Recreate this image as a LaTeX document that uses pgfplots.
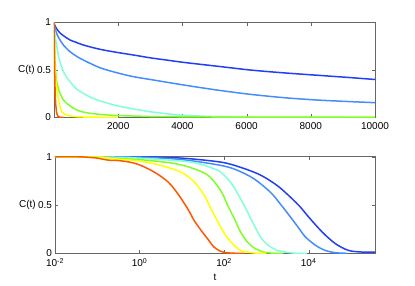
\documentclass[border=0pt]{standalone}
\usepackage{fontspec}
\setmainfont{Liberation Sans}
\usepackage{pgfplots}
\pgfplotsset{compat=1.18}
\definecolor{c1}{rgb}{0.13,0.25,0.95}
\definecolor{c2}{rgb}{0.27,0.55,1.0}
\definecolor{c3}{rgb}{0.5,1.0,0.85}
\definecolor{c4}{rgb}{0.5,1.0,0.15}
\definecolor{c5}{rgb}{1.0,1.0,0.0}
\definecolor{c6}{rgb}{1.0,0.35,0.0}
\pgfplotsset{
  mystyle/.style={
    scale only axis,
    anchor=south west,
    ymin=0, ymax=1,
    ytick={0,0.5,1}, yticklabels={0,0.5,1},
    axis line style={black!60},
    tick style={black!60},
    tick align=inside,
    xtick pos=both, ytick pos=both,
    major tick length=3.5pt,
    minor tick length=0pt,
    ticklabel style={black},
    yticklabel style={xshift=0.5pt},
    xticklabel style={yshift=-1.5pt},
    /pgf/number format/assume math mode=true,
    every axis y label/.style={at={(axis description cs:0,0.5)}, anchor=east, xshift=-19pt, inner sep=0pt},
    every axis x label/.style={at={(axis description cs:0.5,0)}, anchor=north, yshift=-20.5pt, inner sep=0pt},
    ylabel={C(t)},
    every axis plot/.append style={line width=1.5pt, no markers, line join=round},
  }
}
\begin{document}
\begin{tikzpicture}
\path[use as bounding box] (0,0) rectangle (415pt,286pt);
% ---------------- top panel (linear t) ----------------
\begin{axis}[mystyle, at={(54pt,168.5pt)}, width=321pt, height=95pt,
  xmin=0, xmax=10000, scaled x ticks=false,
  xtick={2000,4000,6000,8000,10000}, xticklabels={2000,4000,6000,8000,10000}]
\addplot[c1, smooth] coordinates {(0,1) (10,0.985) (31,0.965) (100,0.925) (187,0.89) (300,0.86) (498,0.816) (700,0.79) (913,0.763) (1430,0.718) (1950,0.686) (2470,0.658) (3000,0.628) (3500,0.605) (4040,0.58) (5080,0.54) (6110,0.50) (7150,0.47) (8190,0.445) (9230,0.42) (10000,0.40)};
\addplot[c2, smooth] coordinates {(0,1) (10,0.97) (31,0.94) (100,0.87) (187,0.816) (300,0.76) (498,0.693) (700,0.645) (913,0.605) (1430,0.524) (1950,0.472) (2470,0.43) (3000,0.40) (4040,0.342) (5080,0.289) (6110,0.244) (7150,0.209) (8190,0.184) (9230,0.167) (10000,0.156)};
\addplot[c3] coordinates {(0,1) (10,0.93) (31,0.868) (80,0.76) (134,0.658) (200,0.57) (290,0.482) (400,0.42) (498,0.377) (600,0.335) (700,0.30) (913,0.254) (1150,0.21) (1430,0.174) (1950,0.124) (2470,0.09) (3000,0.06) (3500,0.04) (4040,0.022) (5080,0.008) (6000,0.003) (7000,0.001) (9000,0)};
\addplot[c4] coordinates {(0,1) (10,0.85) (20,0.74) (31,0.64) (47,0.5) (65,0.43) (83,0.38) (130,0.31) (187,0.254) (280,0.19) (394,0.149) (550,0.11) (705,0.079) (900,0.058) (1120,0.044) (1500,0.03) (1950,0.021) (3000,0.01) (5000,0.005) (10000,0.003)};
\addplot[c5] coordinates {(0,1) (10,0.8) (25,0.6) (50,0.42) (80,0.31) (134,0.20) (180,0.12) (238,0.061) (350,0.03) (498,0.016) (700,0.008) (1000,0.004) (2000,0)};
\addplot[c6] coordinates {(0,1) (5,0.9) (15,0.6) (30,0.33) (50,0.15) (80,0.05) (120,0.015) (200,0) (300,0)};
\end{axis}
% ---------------- bottom panel (log t) ----------------
\begin{axis}[mystyle, at={(55pt,32.7pt)}, width=320pt, height=96.6pt,
  xmode=log, xmin=0.01, xmax=3.7e5,
  xtick={0.01,1,100,10000}, minor xtick={},
  xticklabels={10\textsuperscript{-2},10\textsuperscript{0},10\textsuperscript{2},10\textsuperscript{4}},
  xlabel={t}]
\addplot[c1, smooth] coordinates {(0.01,1) (0.1,0.999) (1,0.998) (10,0.985) (83.2,0.944) (245,0.89) (724,0.81) (1820,0.70) (3715,0.58) (6310,0.48) (10000,0.375) (20893,0.22) (42658,0.10) (87096,0.03) (181970,0.013) (371535,0.013)};
\addplot[c2, smooth] coordinates {(0.01,1) (0.1,0.998) (1,0.995) (10,0.97) (83.2,0.91) (204,0.86) (513,0.77) (1259,0.63) (2138,0.51) (3715,0.375) (6310,0.24) (8318,0.17) (14454,0.083) (24547,0.03) (42658,0.006) (79433,0)};
\addplot[c3, smooth] coordinates {(0.01,1) (0.1,0.998) (1,0.985) (16.6,0.944) (57.5,0.875) (83.2,0.84) (145,0.73) (245,0.565) (355,0.43) (513,0.29) (724,0.17) (1047,0.09) (1820,0.03) (3090,0.01) (5012,0) (9000,0)};
\addplot[c4, smooth] coordinates {(0.01,1) (0.1,0.995) (0.316,0.98) (1,0.97) (6.61,0.93) (19.5,0.875) (40.7,0.81) (69.2,0.70) (95.5,0.60) (120,0.50) (174,0.36) (245,0.22) (355,0.117) (513,0.055) (871,0.013) (1585,0) (2500,0)};
\addplot[c5, smooth] coordinates {(0.01,1) (0.1,0.995) (0.316,0.975) (1,0.955) (3.16,0.91) (9.55,0.84) (19.5,0.74) (33.9,0.60) (49.0,0.46) (72.4,0.32) (105,0.195) (158,0.10) (245,0.03) (398,0.01) (631,0) (1000,0)};
\addplot[c6, smooth] coordinates {(0.01,1) (0.0316,1) (0.0562,0.995) (0.1,0.985) (0.178,0.965) (0.316,0.96) (0.562,0.945) (1,0.915) (2.24,0.84) (4.68,0.74) (7.94,0.62) (13.8,0.46) (19.5,0.34) (28.2,0.24) (40.7,0.15) (57.5,0.065) (83.2,0.02) (120,0.005) (200,0) (300,0)};
\end{axis}
\end{tikzpicture}
\end{document}
